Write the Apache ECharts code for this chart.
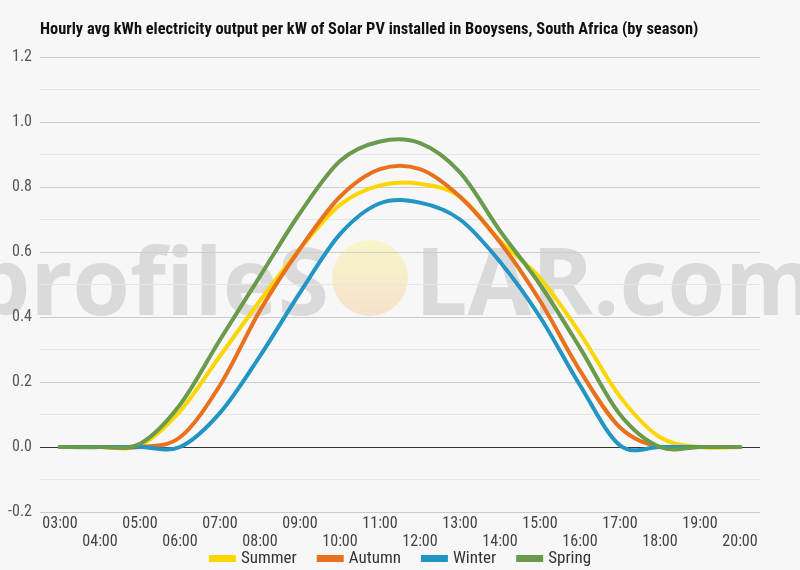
<!DOCTYPE html>
<html>
<head>
<meta charset="utf-8">
<script src="https://cdn.jsdelivr.net/npm/echarts@6/dist/echarts.min.js"></script>
<style>
  html, body { margin: 0; padding: 0; background: #f7f7f7; }
  #chart { width: 800px; height: 570px; }
</style>
</head>
<body>
<div id="chart"></div>
<script>
// horas del día (categorías del eje x)
const horas = ['03:00', '04:00', '05:00', '06:00', '07:00', '08:00', '09:00', '10:00', '11:00',
               '12:00', '13:00', '14:00', '15:00', '16:00', '17:00', '18:00', '19:00', '20:00'];

// kWh medios por kW instalado
const verano    = [0, 0, 0.005, 0.11, 0.28, 0.45, 0.61, 0.745, 0.805, 0.81, 0.77, 0.635, 0.52, 0.35, 0.155, 0.03, 0, 0];
const otono     = [0, 0, 0, 0.03, 0.19, 0.42, 0.61, 0.77, 0.855, 0.855, 0.77, 0.63, 0.45, 0.235, 0.06, 0, 0, 0];
const invierno  = [0, 0, 0, 0, 0.105, 0.28, 0.475, 0.655, 0.75, 0.752, 0.70, 0.57, 0.40, 0.19, 0.005, 0, 0, 0];
const primavera = [0, 0, 0.01, 0.13, 0.33, 0.525, 0.72, 0.88, 0.94, 0.935, 0.845, 0.665, 0.50, 0.305, 0.10, 0, 0, 0];

const FUENTE = '"Liberation Sans Narrow", "Roboto Condensed", Roboto, sans-serif';
const MARCA = 'bold 93px "Open Sans", sans-serif';
const GRIS = '#cccccc';
const TENSION = 1 / 6; // spline tipo Catmull-Rom, sin recorte de puntos de control

// curva suave dibujada con las coordenadas que da el propio eje (api.coord)
function serie(nombre, datos, color) {
  return {
    name: nombre, type: 'custom',
    data: datos.map((v, i) => [i, v]),
    encode: { x: 0, y: 1 },
    itemStyle: { color: color },
    renderItem: function (params, api) {
      if (params.dataIndex !== 0) return null;
      const p = datos.map((v, i) => api.coord([i, v]));
      let d = 'M' + p[0][0] + ' ' + p[0][1];
      for (let i = 0; i < p.length - 1; i++) {
        const a = p[i - 1] || p[i], b = p[i], c = p[i + 1], e = p[i + 2] || p[i + 1];
        d += ' C' + (b[0] + (c[0] - a[0]) * TENSION) + ' ' + (b[1] + (c[1] - a[1]) * TENSION) +
             ' ' + (c[0] - (e[0] - b[0]) * TENSION) + ' ' + (c[1] - (e[1] - b[1]) * TENSION) +
             ' ' + c[0] + ' ' + c[1];
      }
      return { type: 'path', shape: { pathData: d },
               style: { fill: 'none', stroke: color, lineWidth: 4, lineJoin: 'round', lineCap: 'round' } };
    }
  };
}

const chart = echarts.init(document.getElementById('chart'));
chart.setOption({
  backgroundColor: '#f7f7f7',
  animation: false,
  title: {
    text: 'Hourly avg kWh electricity output per kW of Solar PV installed in Booysens, South Africa (by season)',
    left: 35, top: 17,
    textStyle: { color: '#111', fontSize: 16.4, fontWeight: 'bold', fontFamily: FUENTE }
  },
  // marca de agua profileSOLAR.com
  graphic: [
    { type: 'text', z: -1, x: 329, y: 288,
      style: { text: 'profileS', fill: '#dadada', font: MARCA, align: 'right', verticalAlign: 'middle' } },
    { type: 'circle', z: -1, shape: { cx: 370, cy: 278, r: 38 },
      style: { fill: { type: 'linear', x: 0, y: 0, x2: 0, y2: 1,
                       colorStops: [{ offset: 0, color: '#f8f6c8' }, { offset: 1, color: '#f6e2cc' }] } } },
    { type: 'text', z: -1, x: 415, y: 288,
      style: { text: 'LAR.com', fill: '#dadada', font: MARCA, align: 'left', verticalAlign: 'middle' } }
  ],
  legend: {
    top: 545, left: 'center',
    icon: 'rect', itemWidth: 27, itemHeight: 7, itemGap: 20,
    textStyle: { color: '#333', fontSize: 17, fontFamily: FUENTE }
  },
  grid: { left: 40, right: 40, top: 57, bottom: 58 },
  xAxis: {
    type: 'category', data: horas, boundaryGap: true,
    axisLine: { show: false, onZero: false },
    axisTick: { show: false },
    axisLabel: {
      interval: 0, margin: 3, color: '#444', fontSize: 16, lineHeight: 18, fontFamily: FUENTE,
      formatter: (v, i) => (i % 2 ? '\n' + v : v)
    }
  },
  yAxis: {
    type: 'value', min: -0.2, max: 1.2, interval: 0.2,
    axisLine: { show: false }, axisTick: { show: false },
    axisLabel: { color: '#555', fontSize: 16, margin: 8, fontFamily: FUENTE,
                 formatter: (v) => v.toFixed(1) },
    splitLine: { lineStyle: { color: [GRIS, '#333', GRIS, GRIS, GRIS, GRIS, GRIS, GRIS] } },
    minorTick: { show: false, splitNumber: 2 },
    minorSplitLine: { show: true, lineStyle: { color: '#e6e6e6' } }
  },
  series: [
    serie('Summer', verano, '#fdd600'),
    serie('Autumn', otono, '#e8711d'),
    serie('Winter', invierno, '#2295c4'),
    serie('Spring', primavera, '#6a9a4c')
  ]
});
</script>
</body>
</html>
